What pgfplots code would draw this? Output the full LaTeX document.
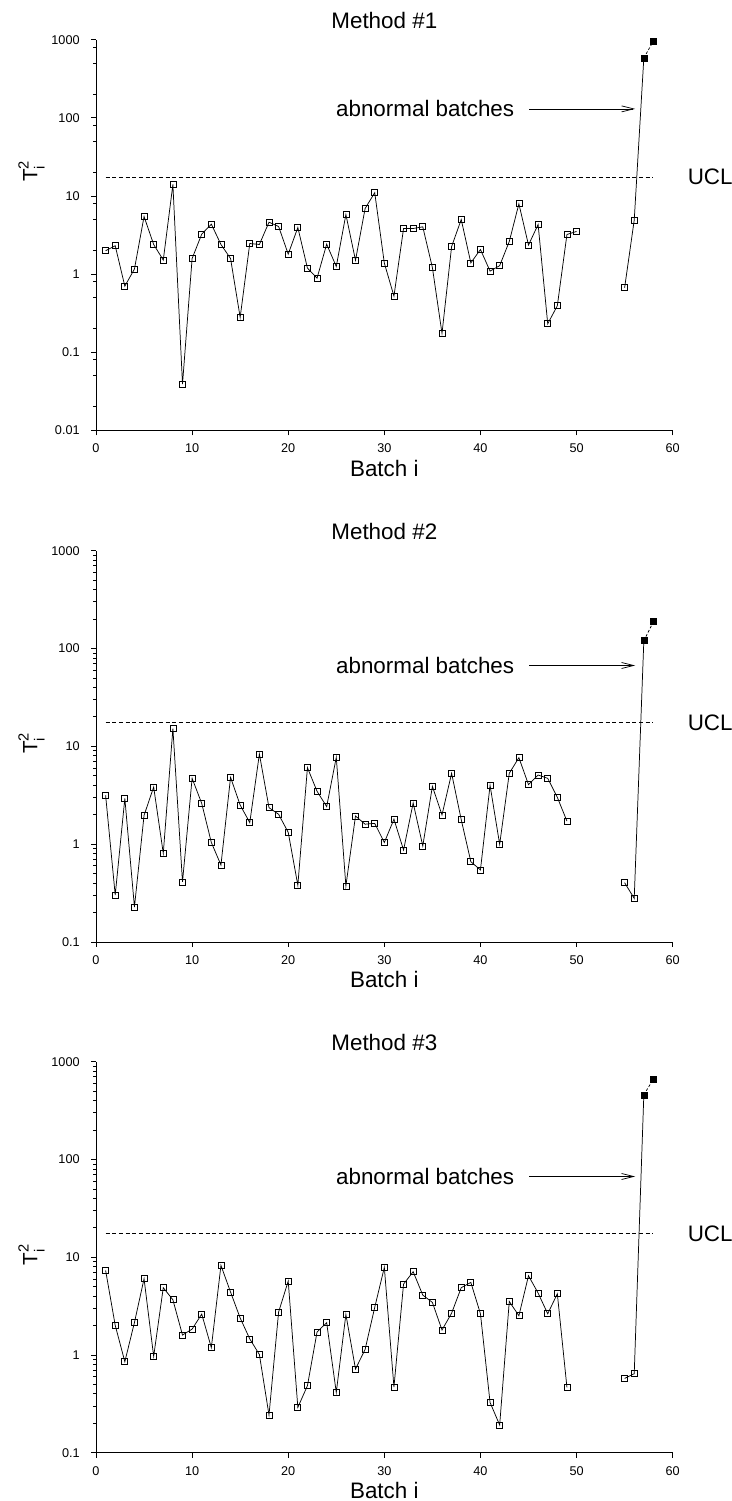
\documentclass[border=0pt]{standalone}
\usepackage{fontspec}
\setmainfont{Liberation Sans}
\usepackage{pgfplots}
\pgfplotsset{compat=1.18}
\usetikzlibrary{arrows.meta}

\newcommand{\bigtxt}{\fontsize{16.8}{20}\selectfont}
\newcommand{\Tlab}{{\fontsize{15.5}{18}\selectfont T{\fontsize{11}{13}\selectfont\rlap{\raisebox{-0.5em}{i}}\raisebox{0.6em}{2}}}}

\pgfplotsset{
  every axis title shift=0pt,
  rchart/.style={
    scale only axis, width=432.5pt,
    xmin=0, xmax=60,
    axis lines=left, axis line style={-, line width=0.6pt},
    tick align=outside, major tick length=3.75pt, minor tick length=1.9pt,
    every tick/.style={black, line width=0.6pt},
    xtick={0,10,20,30,40,50,60}, xticklabels={0,10,20,30,40,50,60},
    ticklabel style={font=\fontsize{9.5}{11}\selectfont},
    xticklabel style={anchor=north, yshift=-3pt},
    yticklabel style={anchor=east, xshift=-5pt},
    clip=false,
    title style={at={(axis description cs:0.5,1)}, anchor=base, yshift=8.6pt, font=\bigtxt},
    every axis x label/.style={at={(axis description cs:0.5,0)}, anchor=base, yshift=-34.5pt, font=\bigtxt},
    xlabel={Batch i},
  },
  ser/.style={black, line width=0.55pt, mark=square, mark size=2.25pt, mark options={solid, fill=white, line width=0.55pt}},
  ucl/.style={black, line width=0.5pt, dash pattern=on 3pt off 2pt},
}

\begin{document}
\begin{tikzpicture}
\useasboundingbox (0,0) rectangle (548.25pt,1125.75pt);

% ---- Method #1
\begin{semilogyaxis}[rchart, at={(72pt,803pt)}, anchor=south west, height=293pt,
  ymin=0.01, ymax=1000, title={Method \#1},
  ytick={0.01,0.1,1,10,100,1000}, yticklabels={0.01,0.1,1,10,100,1000},
  minor ytick={0.02,0.05,0.08,0.2,0.5,0.8,2,5,8,20,50,80,200,500,800}]
\addplot[ucl] coordinates {(1,17.5) (58,17.5)};
\addplot[ser] coordinates {(1,1.99)(2,2.30)(3,0.70)(4,1.16)(5,5.45)(6,2.39)(7,1.51)(8,14.0)(9,0.039)(10,1.58)
 (11,3.24)(12,4.35)(13,2.39)(14,1.58)(15,0.279)(16,2.46)(17,2.39)(18,4.61)(19,4.06)(20,1.80)
 (21,3.94)(22,1.19)(23,0.887)(24,2.41)(25,1.25)(26,5.78)(27,1.50)(28,6.90)(29,11.0)(30,1.38)
 (31,0.522)(32,3.83)(33,3.83)(34,4.02)(35,1.21)(36,0.174)(37,2.25)(38,4.99)(39,1.39)(40,2.06)
 (41,1.09)(42,1.28)(43,2.61)(44,7.92)(45,2.35)(46,4.31)(47,0.231)(48,0.393)(49,3.21)(50,3.51)};
\addplot[black, line width=0.55pt, no marks] coordinates {(55,0.667)(56,4.89)(57,583)};
\addplot[black, line width=0.55pt, dash pattern=on 2pt off 1.5pt, no marks] coordinates {(57,583)(58,962)};
\addplot[ser, only marks] coordinates {(55,0.667)(56,4.89)};
\addplot[black, only marks, mark=square*, mark size=2.25pt] coordinates {(57,583)(58,962)};
\node[anchor=east, font=\bigtxt] at (axis cs:44.0,130) {abnormal batches};
\draw[line width=0.55pt, -{Straight Barb[length=9pt,width=4.5pt]}] (axis cs:45.06,130) -- (axis cs:56.09,130);
\node[anchor=west, font=\bigtxt] at (axis cs:61.08,17.5) {UCL};
\end{semilogyaxis}

% ---- Method #2
\begin{semilogyaxis}[rchart, at={(72pt,419.25pt)}, anchor=south west, height=293.5pt,
  ymin=0.1, ymax=1000, title={Method \#2},
  ytick={0.1,1,10,100,1000}, yticklabels={0.1,1,10,100,1000},
  minor ytick={0.2,0.3,0.4,0.5,0.6,0.7,0.8,0.9,2,3,4,5,6,7,8,9,20,30,40,50,60,70,80,90,200,300,400,500,600,700,800,900}]
\addplot[ucl] coordinates {(1,17.5) (58,17.5)};
\addplot[ser] coordinates {(1,3.16)(2,0.302)(3,2.94)(4,0.228)(5,1.97)(6,3.84)(7,0.806)(8,15.2)(9,0.411)(10,4.71)
 (11,2.61)(12,1.04)(13,0.612)(14,4.82)(15,2.51)(16,1.66)(17,8.35)(18,2.36)(19,2.02)(20,1.32)
 (21,0.380)(22,6.05)(23,3.47)(24,2.42)(25,7.72)(26,0.374)(27,1.94)(28,1.60)(29,1.63)(30,1.04)
 (31,1.80)(32,0.871)(33,2.64)(34,0.958)(35,3.90)(36,1.99)(37,5.30)(38,1.78)(39,0.662)(40,0.545)
 (41,3.99)(42,0.996)(43,5.30)(44,7.66)(45,4.06)(46,5.09)(47,4.71)(48,3.01)(49,1.72)};
\addplot[black, line width=0.55pt, no marks] coordinates {(55,0.404)(56,0.279)(57,120)};
\addplot[black, line width=0.55pt, dash pattern=on 2pt off 1.5pt, no marks] coordinates {(57,120)(58,188)};
\addplot[ser, only marks] coordinates {(55,0.404)(56,0.279)};
\addplot[black, only marks, mark=square*, mark size=2.25pt] coordinates {(57,120)(58,188)};
\node[anchor=east, font=\bigtxt] at (axis cs:44.0,67) {abnormal batches};
\draw[line width=0.55pt, -{Straight Barb[length=9pt,width=4.5pt]}] (axis cs:45.06,67) -- (axis cs:56.09,67);
\node[anchor=west, font=\bigtxt] at (axis cs:61.08,17.5) {UCL};
\end{semilogyaxis}

% ---- Method #3
\begin{semilogyaxis}[rchart, at={(72pt,36.2pt)}, anchor=south west, height=293.25pt,
  ymin=0.1, ymax=1000, title={Method \#3},
  ytick={0.1,1,10,100,1000}, yticklabels={0.1,1,10,100,1000},
  minor ytick={0.2,0.3,0.4,0.5,0.6,0.7,0.8,0.9,2,3,4,5,6,7,8,9,20,30,40,50,60,70,80,90,200,300,400,500,600,700,800,900}]
\addplot[ucl] coordinates {(1,17.5) (58,17.5)};
\addplot[ser] coordinates {(1,7.33)(2,2.01)(3,0.853)(4,2.15)(5,6.03)(6,0.968)(7,4.88)(8,3.67)(9,1.60)(10,1.84)
 (11,2.62)(12,1.19)(13,8.25)(14,4.40)(15,2.39)(16,1.46)(17,1.01)(18,0.243)(19,2.75)(20,5.70)
 (21,0.291)(22,0.485)(23,1.72)(24,2.14)(25,0.414)(26,2.60)(27,0.718)(28,1.14)(29,3.07)(30,7.87)
 (31,0.470)(32,5.31)(33,7.11)(34,4.10)(35,3.45)(36,1.80)(37,2.68)(38,4.88)(39,5.53)(40,2.64)
 (41,0.327)(42,0.192)(43,3.53)(44,2.52)(45,6.47)(46,4.30)(47,2.64)(48,4.23)(49,0.466)};
\addplot[black, line width=0.55pt, no marks] coordinates {(55,0.576)(56,0.643)(57,459)};
\addplot[black, line width=0.55pt, dash pattern=on 2pt off 1.5pt, no marks] coordinates {(57,459)(58,665)};
\addplot[ser, only marks] coordinates {(55,0.576)(56,0.643)};
\addplot[black, only marks, mark=square*, mark size=2.25pt] coordinates {(57,459)(58,665)};
\node[anchor=east, font=\bigtxt] at (axis cs:44.0,67) {abnormal batches};
\draw[line width=0.55pt, -{Straight Barb[length=9pt,width=4.5pt]}] (axis cs:45.06,67) -- (axis cs:56.09,67);
\node[anchor=west, font=\bigtxt] at (axis cs:61.08,17.5) {UCL};
\end{semilogyaxis}

% y labels
\node[rotate=90] at (23.6pt,997.1pt) {\Tlab};
\node[rotate=90] at (23.6pt,568.1pt) {\Tlab};
\node[rotate=90] at (23.6pt,184.5pt) {\Tlab};
\end{tikzpicture}
\end{document}
